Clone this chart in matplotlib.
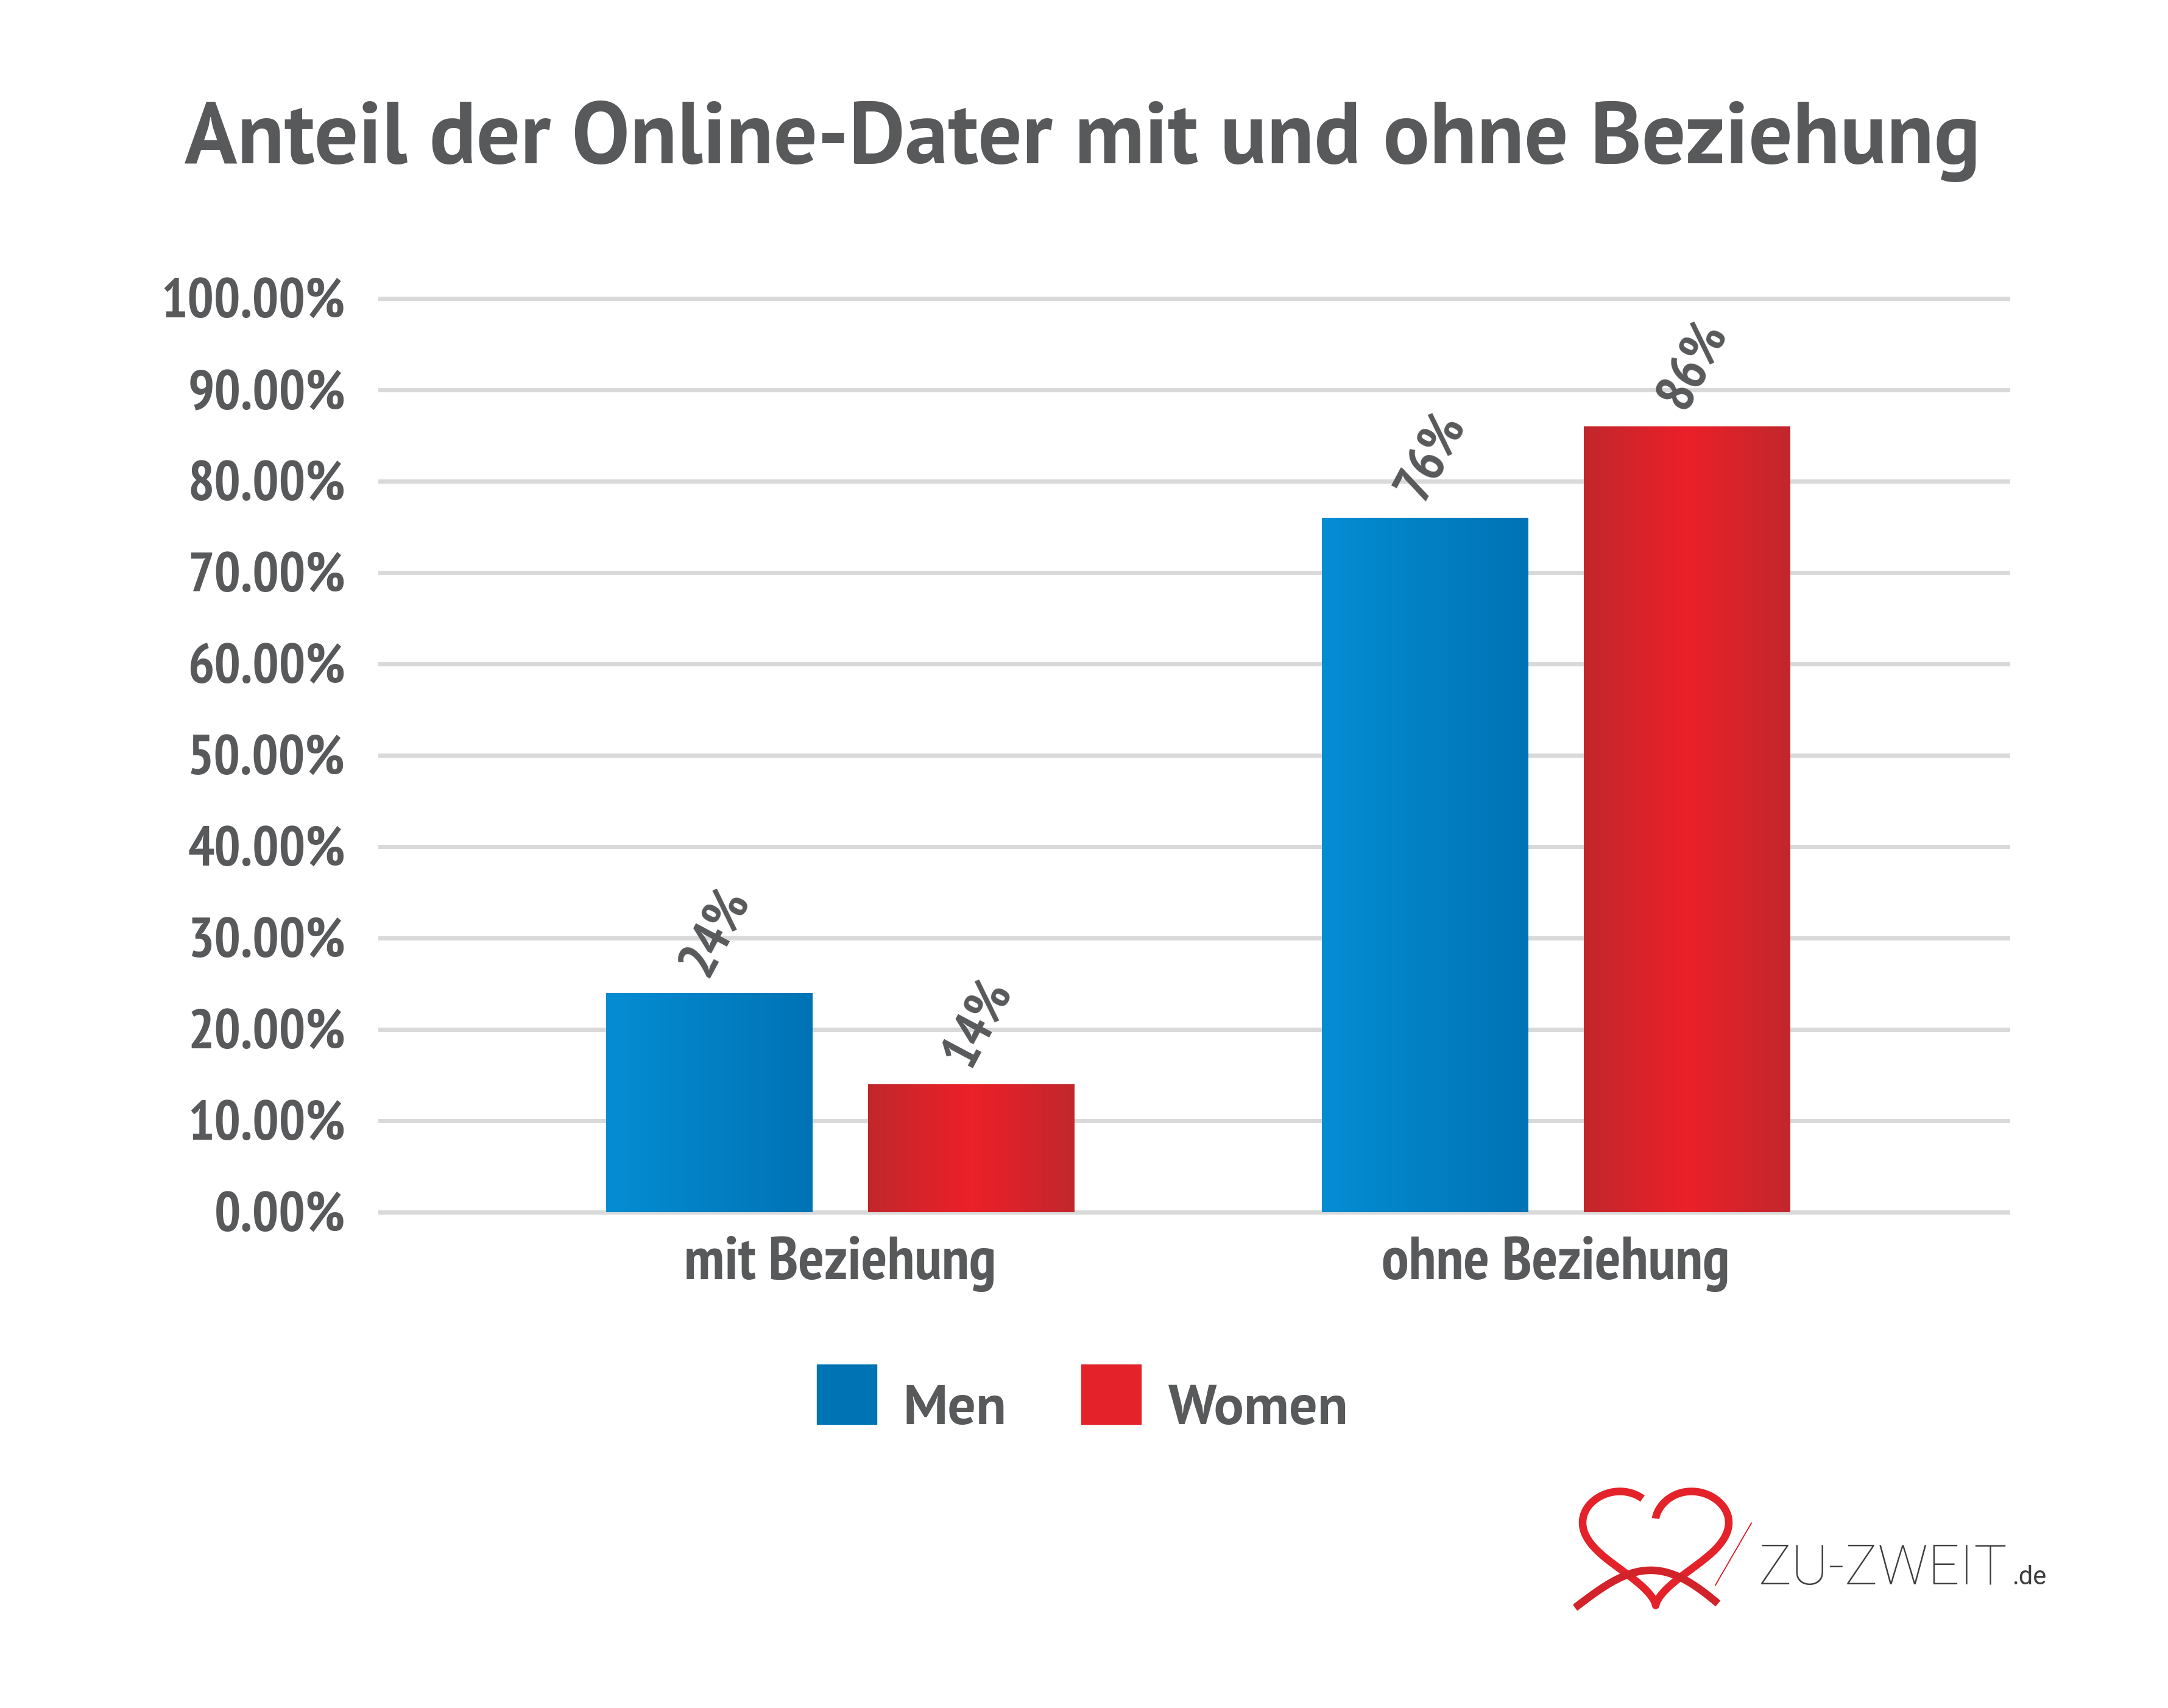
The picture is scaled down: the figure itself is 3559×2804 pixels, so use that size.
import numpy as np
import matplotlib
matplotlib.use('Agg')
import matplotlib.pyplot as plt
from matplotlib.colors import LinearSegmentedColormap
from matplotlib.patches import Rectangle, Polygon

# chart data
categories = ['mit Beziehung', 'ohne Beziehung']
series_names = ['Men', 'Women']
men_vals = [24, 76]
women_vals = [14, 86]
yticks = [0, 10, 20, 30, 40, 50, 60, 70, 80, 90, 100]
ytick_labels = [f'{v:.2f}%' for v in yticks]
title = 'Anteil der Online-Dater mit und ohne Beziehung'

W, H = 3559, 2804
DPI = 100
grey = '#58595b'
grid_col = '#d9d9d9'
narrow = ['PT Sans Narrow', 'DejaVu Sans']
plain = ['PT Sans', 'Open Sans', 'DejaVu Sans']

fig = plt.figure(figsize=(W / DPI, H / DPI), dpi=DPI, facecolor='white')
ax = fig.add_axes([624 / W, 1 - 1990 / H, (3296 - 624) / W, (1990 - 490) / H])
renderer = fig.canvas.get_renderer()


def fit_width(t, target_px):
    w = t.get_window_extent(renderer).width
    t.set_fontsize(t.get_fontsize() * target_px / w)
    return t.get_fontsize()


blue_cmap = LinearSegmentedColormap.from_list('b', ['#058dd3', '#0073b5'])
red_cmap = LinearSegmentedColormap.from_list('r', ['#c1272d', '#ec2028', '#c1272d'])

x = np.arange(len(categories))
bw = 0.288
off = 0.183
bars_m = ax.bar(x - off, men_vals, bw, color='#0073b5', zorder=3)
bars_w = ax.bar(x + off, women_vals, bw, color='#e3222a', zorder=3)

grad = np.linspace(0, 1, 256).reshape(1, -1)
for bars, cm in [(bars_m, blue_cmap), (bars_w, red_cmap)]:
    for p in bars:
        x0 = p.get_x()
        im = ax.imshow(grad, cmap=cm, aspect='auto', zorder=4,
                       extent=[x0, x0 + p.get_width(), 0, p.get_height()])
        im.set_clip_path(p)

ax.set_xlim(-0.643, 1.632)
ax.set_ylim(0, 100)
for s in ax.spines.values():
    s.set_visible(False)
ax.tick_params(axis='both', length=0, colors=grey)
ax.tick_params(axis='y', pad=41)
ax.tick_params(axis='x', pad=28)
ax.yaxis.grid(True, color=grid_col, linewidth=5, zorder=0)
ax.set_axisbelow(True)

# size the tick fonts from the widest label of each axis
probe = fig.text(0, 0, ytick_labels[-1], fontsize=70, fontweight='bold', family=narrow)
ysize = fit_width(probe, 302)
probe.remove()
probe = fig.text(0, 0, categories[1], fontsize=70, fontweight='bold', family=narrow)
xsize = fit_width(probe, 572)
probe.remove()

ax.set_yticks(yticks)
ax.set_yticklabels(ytick_labels, fontsize=ysize, fontweight='bold', family=narrow)
ax.set_xticks(x)
ax.set_xticklabels(categories, fontsize=xsize, fontweight='bold', family=narrow)
for gl in ax.get_ygridlines():
    gl.set_clip_on(False)

# value labels
for bars, vals in [(bars_m, men_vals), (bars_w, women_vals)]:
    for p, v in zip(bars, vals):
        ax.text(p.get_x() + p.get_width() / 2 + 0.01, v + 1.0, f'{v}%',
                rotation=62, ha='center', va='bottom', color=grey,
                fontsize=64, fontweight='bold', family=narrow, zorder=5)

# title
tt = fig.text(1777 / W, 1 - 268 / H, title, ha='center', va='baseline',
              color=grey, fontsize=98, fontweight='bold', family=plain)
fit_width(tt, 2951)

# legend
leg_cols = ['#0073b5', '#e3222a']
sq_x = [1341, 1775]
txt_x = [1482, 1918]
txt_w = [170, 295]
for name, c, sx, tx, tw in zip(series_names, leg_cols, sq_x, txt_x, txt_w):
    fig.add_artist(Rectangle((sx / W, 1 - 2338 / H), 98 / W, 98 / H,
                             transform=fig.transFigure, color=c))
    lt = fig.text(tx / W, 1 - 2338 / H, name, ha='left', va='baseline',
                  color=grey, fontsize=64, fontweight='bold', family=plain)
    fit_width(lt, tw)

# logo
lax = fig.add_axes([2583 / W, 1 - 2655 / H, 300 / W, 220 / H])
lax.set_xlim(-18, 22)
lax.set_ylim(-20, 14)
lax.axis('off')
t = np.linspace(0.05, 2 * np.pi - 0.6, 300)
hx = 16 * np.sin(t) ** 3
hy = 13 * np.cos(t) - 5 * np.cos(2 * t) - 2 * np.cos(3 * t) - np.cos(4 * t)
lax.plot(hx, hy, color='#e3222a', linewidth=9, solid_capstyle='butt')
sw = np.linspace(0, 1, 60)
lax.plot(-17 + 30 * sw, -17 + 10 * np.sin(sw * np.pi * 0.9) - 2 * sw,
         color='#d2232a', linewidth=9)
lax.add_patch(Polygon([[15, -8], [21, 4], [13, -12]], closed=True,
                      color='#e3222a'))
lt = fig.text(2887 / W, 1 - 2601 / H, 'ZU-ZWEIT', ha='left', va='baseline',
              color='#3d3d3d', fontsize=60, fontweight='light',
              family=['Roboto', 'DejaVu Sans'])
fit_width(lt, 409)
fig.text(3303 / W, 1 - 2601 / H, '.de', ha='left', va='baseline',
         color='#3d3d3d', fontsize=30, family=['Roboto', 'DejaVu Sans'])

fig.savefig('out.png', dpi=DPI, facecolor='white')
